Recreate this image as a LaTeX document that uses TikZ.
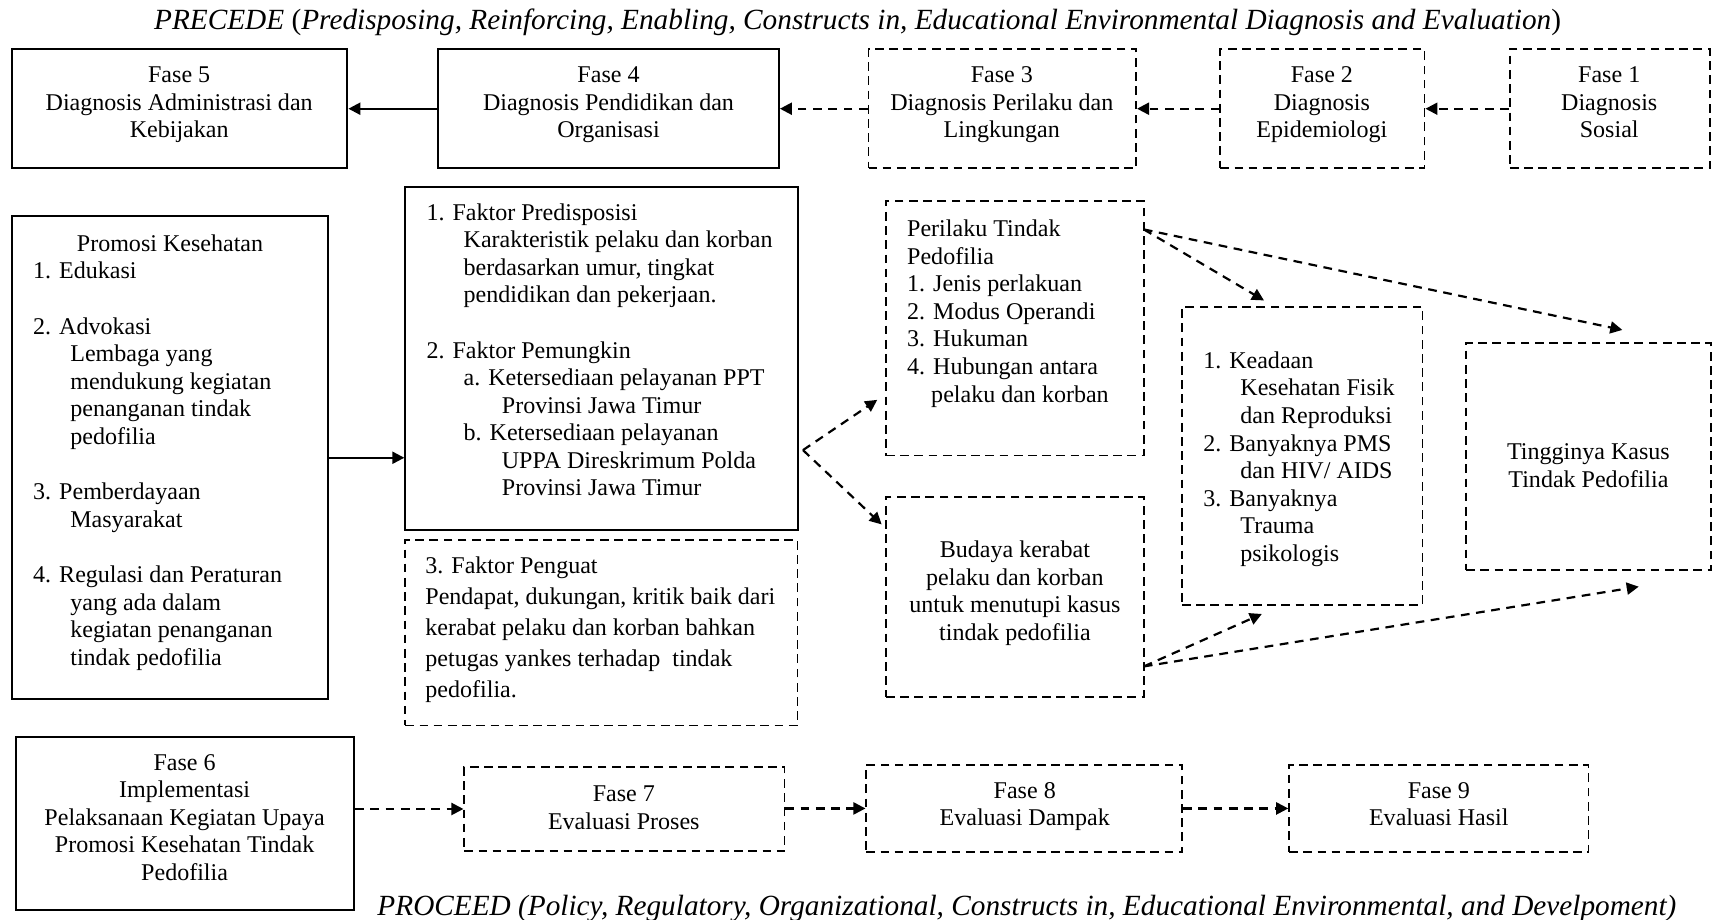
\documentclass[tikz,border=0pt]{standalone}
\usepackage{fontspec}
\setmainfont{Liberation Serif}
\usetikzlibrary{arrows.meta,fit}

\tikzset{
  box/.style={inner sep=0pt, line width=0.9pt},
  solidbox/.style={box, draw},
  dashbox/.style={box, draw, line width=0.8pt, dash pattern=on 4pt off 2.5pt},
  txt/.style={inner sep=0pt, font=\fontsize{11}{12.63}\selectfont},
  % the base anchor of a multi-line node sits on its last line
  ctxt/.style={txt, align=center, anchor=base},
  ltxt/.style={txt, align=left, anchor=base west},
  link/.style={line width=1pt, -{Triangle[length=5.5pt,width=5.5pt]}},
  dlink/.style={link, dash pattern=on 4pt off 3pt},
  heading/.style={inner sep=0pt, anchor=base, font=\fontsize{13.4}{15}\selectfont\itshape},
}

\begin{document}
\begin{tikzpicture}[x=0.5pt,y=-0.5pt]
\useasboundingbox (0,0) rectangle (1568,842);

% headings
\node[heading] (precede) at (785,27) {PRECEDE \textup{(}Predisposing, Reinforcing, Enabling, Constructs in, Educational Environmental Diagnosis and Evaluation\textup{)}};
\node[heading] (proceed) at (940,838) {PROCEED (Policy, Regulatory, Organizational, Constructs in, Educational Environmental, and Develpoment)};

% phases 5 .. 1
\node[solidbox, fit={(11,45) (318,154)}] (f5) {};
\node[solidbox, fit={(401,45) (713,154)}] (f4) {};
\node[dashbox, fit={(795,45) (1040,154)}] (f3) {};
\node[dashbox, fit={(1117,45) (1304,154)}] (f2) {};
\node[dashbox, fit={(1382,45) (1565,154)}] (f1) {};
\node[ctxt] (f5t) at (164,126) {Fase 5\\Diagnosis Administrasi dan\\Kebijakan};
\node[ctxt] (f4t) at (557,126) {Fase 4\\Diagnosis Pendidikan dan\\Organisasi};
\node[ctxt] (f3t) at (917,126) {Fase 3\\Diagnosis Perilaku dan\\Lingkungan};
\node[ctxt] (f2t) at (1210,126) {Fase 2\\Diagnosis\\Epidemiologi};
\node[ctxt] (f1t) at (1473,126) {Fase 1\\Diagnosis\\Sosial};

\draw[link] (f4.west) -- (f5.east);
\draw[dlink] (f3.west) -- (f4.east);
\draw[dlink] (f2.west) -- (f3.east);
\draw[dlink] (f1.west) -- (f2.east);

% health promotion
\node[solidbox, fit={(11,198) (300,640)}] (promosi) {};
\node[ltxt] (promosit) at (30,609) {\hspace*{20pt}Promosi Kesehatan\\
1. Edukasi\\ ~\\
2. Advokasi\\
\hspace*{17pt}Lembaga yang\\
\hspace*{17pt}mendukung kegiatan\\
\hspace*{17pt}penanganan tindak\\
\hspace*{17pt}pedofilia\\ ~\\
3. Pemberdayaan\\
\hspace*{17pt}Masyarakat\\ ~\\
4. Regulasi dan Peraturan\\
\hspace*{17pt}yang ada dalam\\
\hspace*{17pt}kegiatan penanganan\\
\hspace*{17pt}tindak pedofilia};

% predisposing / enabling factors
\node[solidbox, fit={(371,171) (730,485)}] (faktor) {};
\node[ltxt] (faktort) at (390,454) {1. Faktor Predisposisi\\
\hspace*{17pt}Karakteristik pelaku dan korban\\
\hspace*{17pt}berdasarkan umur, tingkat\\
\hspace*{17pt}pendidikan dan pekerjaan.\\ ~\\
2. Faktor Pemungkin\\
\hspace*{17pt}a. Ketersediaan pelayanan PPT\\
\hspace*{34.5pt}Provinsi Jawa Timur\\
\hspace*{17pt}b. Ketersediaan pelayanan\\
\hspace*{34.5pt}UPPA Direskrimum Polda\\
\hspace*{34.5pt}Provinsi Jawa Timur};

% reinforcing factors
\node[dashbox, fit={(371,494) (730,664)}] (penguat) {};
\node[ltxt, font=\fontsize{11}{14.1}\selectfont] (penguatt) at (389,638) {3. Faktor Penguat\\
Pendapat, dukungan, kritik baik dari\\
kerabat pelaku dan korban bahkan\\
petugas yankes terhadap\ \ tindak\\
pedofilia.};

% behaviour and environment
\node[dashbox, fit={(811,184) (1047,417)}] (perilaku) {};
\node[ltxt] (perilakut) at (830,368) {Perilaku Tindak\\
Pedofilia\\
1. Jenis perlakuan\\
2. Modus Operandi\\
3. Hukuman\\
4. Hubungan antara\\
\hspace*{11pt}pelaku dan korban};

\node[dashbox, fit={(811,455) (1047,638)}] (budaya) {};
\node[ctxt] (budayat) at (929,586) {Budaya kerabat\\pelaku dan korban\\untuk menutupi kasus\\tindak pedofilia};

% epidemiology
\node[dashbox, fit={(1082,281) (1302,554)}] (keadaan) {};
\node[ltxt] (keadaant) at (1101,514) {1. Keadaan\\
\hspace*{17pt}Kesehatan Fisik\\
\hspace*{17pt}dan Reproduksi\\
2. Banyaknya PMS\\
\hspace*{17pt}dan HIV/ AIDS\\
3. Banyaknya\\
\hspace*{17pt}Trauma\\
\hspace*{17pt}psikologis};

% social
\node[dashbox, fit={(1342,314) (1566,522)}] (tinggi) {};
\node[ctxt] (tinggit) at (1454,446) {Tingginya Kasus\\Tindak Pedofilia};

% links of the middle part
\draw[link] (promosi.east) -- (promosi.east -| faktor.west);
\coordinate (fork) at (735,412);
\coordinate (toPerilaku) at (803,366);
\coordinate (toBudaya) at (807,480);
\draw[dlink] (fork) -- (toPerilaku);
\draw[dlink] (fork) -- (toBudaya);

\coordinate (perOut) at (1047,210);
\coordinate (perToKeadaan) at (1157,275);
\coordinate (perToTinggi) at (1485,302);
\draw[dlink] (perOut) -- (perToKeadaan);
\draw[dlink] (perOut) -- (perToTinggi);

\coordinate (budOut) at (1047,610);
\coordinate (budToKeadaan) at (1155,562);
\coordinate (budToTinggi) at (1500,537);
\draw[dlink] (budOut) -- (budToKeadaan);
\draw[dlink] (budOut) -- (budToTinggi);

% phases 6 .. 9
\node[solidbox, fit={(15,675) (324,833)}] (f6) {};
\node[dashbox, fit={(425,702) (718,779)}] (f7) {};
\node[dashbox, fit={(793,700) (1082,780)}] (f8) {};
\node[dashbox, fit={(1180,700) (1454,780)}] (f9) {};
\node[ctxt] (f6t) at (169,806) {Fase 6\\Implementasi\\Pelaksanaan Kegiatan Upaya\\Promosi Kesehatan Tindak\\Pedofilia};
\node[ctxt] (f7t) at (571,759) {Fase 7\\Evaluasi Proses};
\node[ctxt] (f8t) at (938,756) {Fase 8\\Evaluasi Dampak};
\node[ctxt] (f9t) at (1317,756) {Fase 9\\Evaluasi Hasil};

\draw[dlink] (f6.east |- f7.west) -- (f7.west);
\draw[dlink] (f7.east |- f8.west) -- (f8.west);
\draw[dlink] (f8.east) -- (f9.west);
\end{tikzpicture}
\end{document}
